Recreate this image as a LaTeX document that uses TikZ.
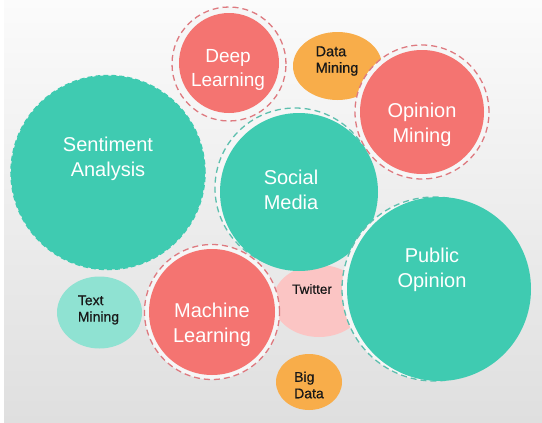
\documentclass[tikz,border=0pt]{standalone}
\usepackage{fontspec}
\setmainfont{Liberation Sans}
\newfontfamily\smallsans[FakeBold=0.5]{Liberation Sans}
\definecolor{tealbub}{HTML}{3FCBB1}
\definecolor{tealring}{HTML}{5DBFAE}
\definecolor{tealsoft}{HTML}{8FE2D2}
\definecolor{redbub}{HTML}{F47471}
\definecolor{redring}{HTML}{DE7A80}
\definecolor{orangebub}{HTML}{F8AD4A}
\definecolor{pinkbub}{HTML}{FBC5C4}
\definecolor{halo}{HTML}{F6F6F6}
\definecolor{bgtop}{HTML}{FBFBFB}
\definecolor{bgbottom}{HTML}{DFDFDF}
\definecolor{inktext}{HTML}{181818}
\tikzset{
  bigtext/.style={text=white, align=center, inner sep=0pt,
    font=\fontsize{20}{24.5}\selectfont},
  smalltext/.style={text=inktext, align=left, inner sep=0pt,
    font=\smallsans\fontsize{14}{16.5}\selectfont},
  redhalo/.style={fill=halo, draw=redring, line width=1.3pt, dash pattern=on 6pt off 4pt},
  tealhalo/.style={draw=tealring, line width=1.3pt, dash pattern=on 6pt off 4pt},
}
\begin{document}
\begin{tikzpicture}[x=1pt,y=-1pt]
  % canvas with a soft vertical gradient
  \useasboundingbox (0,0) rectangle (542,423);
  \fill[white] (0,0) rectangle (542,423);
  \shade[top color=bgtop, bottom color=bgbottom] (4,0) rectangle (542,423);

  % small bubbles that sit underneath the larger ones
  \fill[orangebub] (337.5,66) ellipse [x radius=44.5pt, y radius=34pt];
  \fill[pinkbub] (319,301) ellipse [x radius=46pt, y radius=36pt];

  % Sentiment Analysis
  \draw[tealbub, fill=tealbub, line width=1.5pt, dash pattern=on 5pt off 3pt] (108,172.5) circle [radius=97pt];

  % Deep Learning
  \draw[redhalo] (229,64) circle [radius=57pt];
  \fill[redbub] (229,63) circle [radius=50pt];

  % Opinion Mining
  \draw[redhalo] (422,112) circle [radius=67pt];
  \fill[redbub] (422,112) circle [radius=62pt];

  % Social Media
  \filldraw[tealhalo, fill=halo] (295,188) circle [radius=80pt];
  \fill[tealbub] (299,192) circle [radius=79pt];

  % Machine Learning
  \draw[redhalo] (212,312) circle [radius=67.5pt];
  \fill[redbub] (212,312) circle [radius=63pt];

  % Public Opinion
  \filldraw[tealhalo, fill=halo] (434,289) circle [radius=92pt];
  \fill[tealbub] (439,289) circle [radius=92pt];

  % Text Mining and Big Data
  \fill[tealsoft] (99.5,312.5) ellipse [x radius=42.5pt, y radius=36pt];
  \fill[orangebub] (309,382) ellipse [x radius=33pt, y radius=28pt];

  % labels
  \node[bigtext] (sa) at (108,159) {Sentiment\\Analysis};
  \node[bigtext, font=\fontsize{19}{24}\selectfont] (dl) at (228,70) {Deep\\Learning};
  \node[bigtext] (om) at (422,125) {Opinion\\Mining};
  \node[bigtext] (sm) at (291,190) {Social\\Media};
  \node[bigtext] (ml) at (212,325) {Machine\\Learning};
  \node[bigtext] (po) at (432,270) {Public\\Opinion};
  \node[smalltext, font=\smallsans\fontsize{14.5}{16.5}\selectfont] (dm) at (337,61) {Data\\Mining};
  \node[smalltext] (tm) at (98.5,310) {Text\\Mining};
  \node[smalltext] (bd) at (309,385) {Big\\Data};
  \node[smalltext, font=\smallsans\fontsize{13.5}{16}\selectfont] (tw) at (312,289) {Twitter};
\end{tikzpicture}
\end{document}
